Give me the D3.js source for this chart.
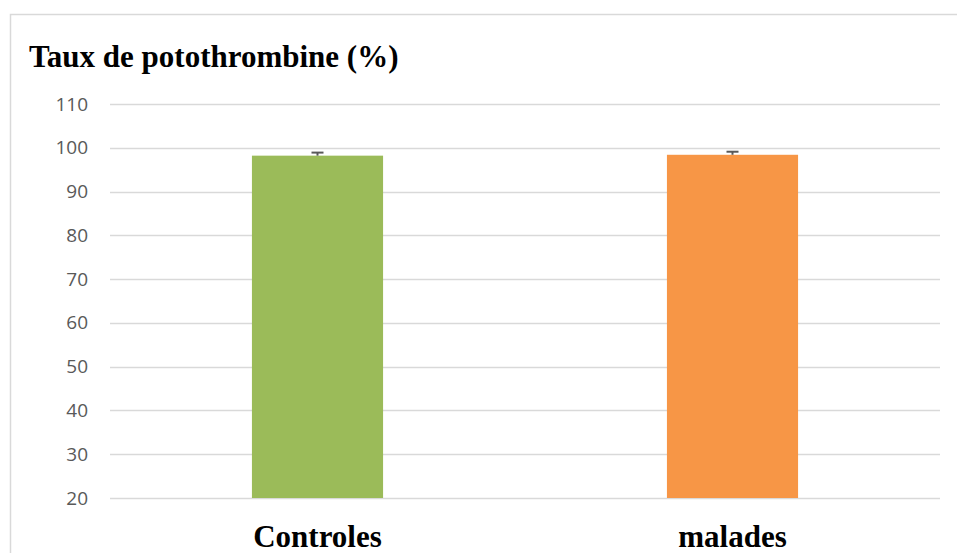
<!DOCTYPE html>
<html lang="fr">
<head>
    <meta charset="UTF-8"/>
    <title>Taux de potothrombine</title>
    <script src="https://d3js.org/d3.v7.min.js"></script>
    <style>
        body { margin: 0; background: #fff; }
    </style>
</head>
<body>
    <div id="chart"></div>

    <script>
        var categories = ["Controles", "malades"];
        var values = [98.2, 98.4];
        var errors = [0.7, 0.7];
        var colors = ["#9bbb59", "#f79646"];
        var yTicks = [20, 30, 40, 50, 60, 70, 80, 90, 100, 110];

        var w = 957;
        var h = 553;
        var plotLeft = 110, plotRight = 940, plotTop = 104, plotBottom = 498;

        var svg = d3.select("#chart")
                    .append("svg")
                    .attr("width", w)
                    .attr("height", h);

        // chart frame (top + left edges visible)
        svg.append("path")
           .attr("d", "M10.5," + h + " V14.5 H" + w)
           .attr("fill", "none")
           .attr("stroke", "#d9d9d9")
           .attr("stroke-width", 1.5);

        var xScale = d3.scaleBand()
                        .domain(categories)
                        .range([plotLeft, plotRight])
                        .paddingInner(0.684)
                        .paddingOuter(0.342);

        var yScale = d3.scaleLinear()
                        .domain([20, 110])
                        .range([plotBottom, plotTop]);

        // gridlines
        svg.append("g")
           .selectAll("line")
           .data(yTicks)
           .enter()
           .append("line")
           .attr("x1", plotLeft)
           .attr("x2", plotRight)
           .attr("y1", function(d) { return Math.round(yScale(d)) + 0.5; })
           .attr("y2", function(d) { return Math.round(yScale(d)) + 0.5; })
           .attr("stroke", "#d9d9d9")
           .attr("stroke-width", 1.5);

        // Y axis labels
        var yAxis = d3.axisLeft(yScale)
                      .tickValues(yTicks)
                      .tickSize(0)
                      .tickPadding(0);
        var yg = svg.append("g")
           .attr("transform", "translate(88,0)")
           .call(yAxis);
        yg.select(".domain").remove();
        yg.selectAll("text")
          .attr("fill", "#595959")
          .attr("font-family", "'Open Sans', sans-serif")
          .attr("font-size", "19px");

        // bars
        svg.selectAll("rect.bar")
           .data(values)
           .enter()
           .append("rect")
           .attr("class", "bar")
           .attr("x", function(d, i) { return xScale(categories[i]); })
           .attr("y", function(d) { return yScale(d); })
           .attr("width", xScale.bandwidth())
           .attr("height", function(d) { return yScale(20) - yScale(d); })
           .attr("fill", function(d, i) { return colors[i]; });

        // error bars
        var eg = svg.append("g")
                    .attr("stroke", "#595959")
                    .attr("stroke-width", 2);
        values.forEach(function(v, i) {
            var cx = xScale(categories[i]) + xScale.bandwidth() / 2;
            eg.append("line")
              .attr("x1", cx).attr("x2", cx)
              .attr("y1", yScale(v)).attr("y2", yScale(v + errors[i]));
            eg.append("line")
              .attr("x1", cx - 6).attr("x2", cx + 6)
              .attr("y1", yScale(v + errors[i])).attr("y2", yScale(v + errors[i]));
        });

        // category labels
        svg.selectAll("text.cat")
           .data(categories)
           .enter()
           .append("text")
           .attr("class", "cat")
           .attr("x", function(d) { return xScale(d) + xScale.bandwidth() / 2; })
           .attr("y", 547)
           .attr("text-anchor", "middle")
           .attr("font-family", "'Liberation Serif', 'Times New Roman', serif")
           .attr("font-weight", "bold")
           .attr("font-size", "31px")
           .text(function(d) { return d; });

        // title
        svg.append("text")
           .attr("x", 29)
           .attr("y", 67)
           .attr("font-family", "'Liberation Serif', 'Times New Roman', serif")
           .attr("font-weight", "bold")
           .attr("font-size", "31px")
           .text("Taux de potothrombine (%)");
    </script>
</body>
</html>
